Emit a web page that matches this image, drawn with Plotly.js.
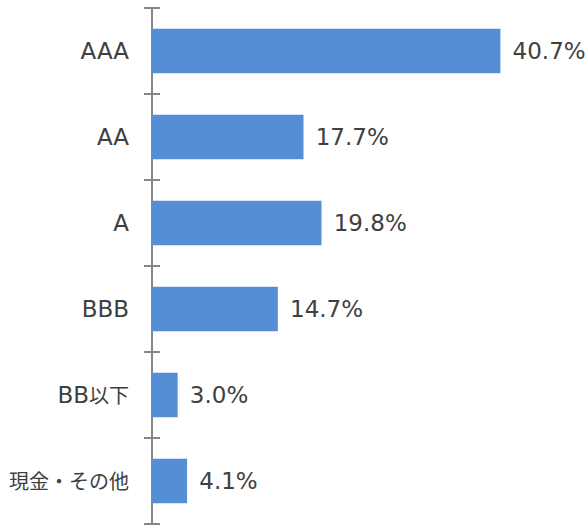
<!DOCTYPE html>
<html><head><meta charset="utf-8">
<script src="https://cdn.plot.ly/plotly-3.0.1.min.js"></script>
<style>body{margin:0;padding:0;background:#fff}</style>
</head><body><div id="chart" style="width:588px;height:526px"></div>
<script>
const categories = ["AAA", "AA", "A", "BBB", "BB以下", "現金・その他"];
const values = [40.7, 17.7, 19.8, 14.7, 3.0, 4.1];

const font = "DejaVu Sans, Verdana, 'Noto Sans CJK JP', sans-serif";
const tickText = categories.map(c => c.replace(/([^\x00-\x7F]+)/g, '<span style="font-size:20px">$1</span>'));
const axisColor = "#868686";
const data = [{
  type: "bar", orientation: "h", x: values, y: categories,
  marker: {color: "#558ED5"},
  texttemplate: "\u2009\u2009%{x:.1f}%", textposition: "outside", cliponaxis: false,
  textfont: {family: font, size: 23, color: "#404040"},
  hoverinfo: "skip"
}];
const layout = {
  width: 588, height: 526,
  margin: {l: 152, r: 8, t: 8, b: 2},
  paper_bgcolor: "#fff", plot_bgcolor: "#fff",
  showlegend: false, bargap: 0.48,
  font: {family: font, color: "#404040", size: 23},
  xaxis: {range: [0, 50], fixedrange: true, showticklabels: false, ticks: "",
    showgrid: false, showline: false,
    zeroline: true, zerolinecolor: axisColor, zerolinewidth: 1.5},
  yaxis: {type: "category", categoryarray: categories, range: [5.5, -0.5],
    anchor: "free", position: 8 / 428,
    tickmode: "array", tickvals: categories, ticktext: tickText,
    showline: false,
    ticks: "outside", ticklen: 16, tickcolor: axisColor, tickwidth: 1.5,
    tickson: "boundaries", showgrid: false, zeroline: false,
    ticklabelstandoff: 31,
    tickfont: {family: font, size: 23, color: "#404040"}}
};
Plotly.newPlot("chart", data, layout, {staticPlot: true});
</script></body></html>
